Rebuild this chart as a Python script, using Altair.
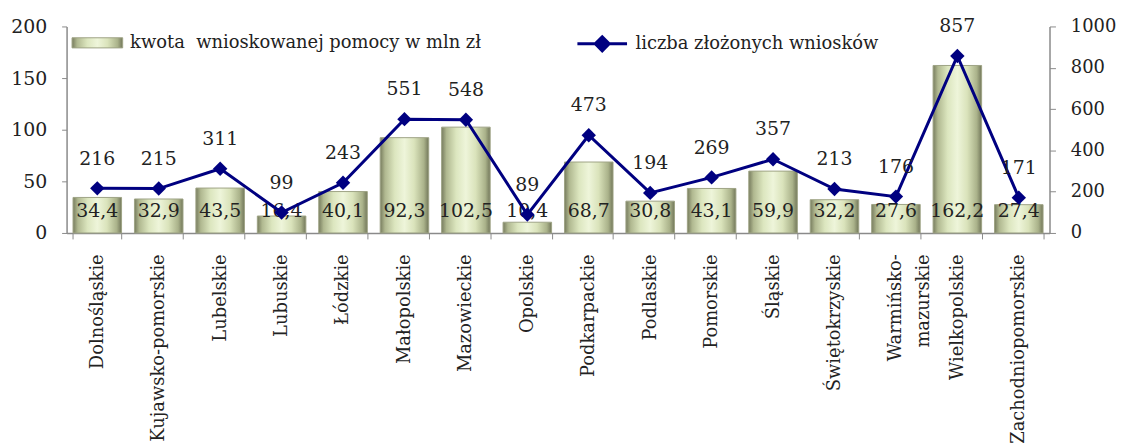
import altair as alt
import pandas as pd

regions = ["Dolnośląskie", "Kujawsko-pomorskie", "Lubelskie", "Lubuskie", "Łódzkie",
           "Małopolskie", "Mazowieckie", "Opolskie", "Podkarpackie", "Podlaskie",
           "Pomorskie", "Śląskie", "Świętokrzyskie", "Warmińsko-\nmazurskie",
           "Wielkopolskie", "Zachodniopomorskie"]
amounts = [34.4, 32.9, 43.5, 16.4, 40.1, 92.3, 102.5, 10.4, 68.7, 30.8,
           43.1, 59.9, 32.2, 27.6, 162.2, 27.4]
counts = [216, 215, 311, 99, 243, 551, 548, 89, 473, 194, 269, 357, 213, 176, 857, 171]
left_ticks = [0, 50, 100, 150, 200]
right_ticks = [0, 200, 400, 600, 800, 1000]
bar_series = "kwota\u00a0 wnioskowanej pomocy w mln zł"
line_series = "liczba złożonych wniosków"

df = pd.DataFrame({
    "region": regions,
    "amount": amounts,
    "count": counts,
    "amount_label": [f"{v:.1f}".replace(".", ",") for v in amounts],
    "bs": bar_series,
    "ls": line_series,
})

FONT = "DejaVu Serif"
TXT = "#222222"
NAVY = "#000080"

xenc = alt.X("region:N", sort=regions, title=None,
             scale=alt.Scale(paddingInner=0.21, paddingOuter=0.105),
             axis=alt.Axis(labelAngle=270, labelExpr="split(datum.label, '\\n')",
                           tickBand="extent", tickSize=6, labelPadding=15,
                           labelFontSize=18, labelLineHeight=28, labelLimit=300))

yleft = alt.Y("amount:Q", title=None,
              scale=alt.Scale(domain=[0, 200], nice=False),
              axis=alt.Axis(values=left_ticks, orient="left", grid=False, tickSize=5,
                            labelPadding=15, format="d"))

grad = alt.Gradient(
    gradient="linear", x1=0, x2=1, y1=0, y2=0,
    stops=[
        alt.GradientStop(offset=0, color="#777c5e"),
        alt.GradientStop(offset=0.1, color="#b0b890"),
        alt.GradientStop(offset=0.3, color="#dce6bf"),
        alt.GradientStop(offset=0.5, color="#eef5da"),
        alt.GradientStop(offset=0.7, color="#dae3bb"),
        alt.GradientStop(offset=0.9, color="#aab28a"),
        alt.GradientStop(offset=1, color="#72775a"),
    ],
)

bars = alt.Chart(df).mark_bar(fill=grad, strokeWidth=1).encode(
    x=xenc,
    y=yleft,
    stroke=alt.Stroke("bs:N", scale=alt.Scale(range=["#9ea385"]),
                      legend=alt.Legend(title=None, orient="none", legendX=5, legendY=-9.5,
                                        symbolType="M-1,-0.2H1V0.2H-1Z", symbolSize=2601,
                                        symbolFillColor="#d8e1b8", symbolStrokeWidth=1,
                                        labelOffset=7, padding=0, labelLimit=600,
                                        labelFont=FONT, labelFontSize=18, labelColor=TXT)),
)

bar_text = alt.Chart(df).mark_text(font=FONT, fontSize=19, color=TXT, dy=-22,
                                   baseline="middle").encode(
    x=alt.X("region:N", sort=regions),
    y=alt.datum(0),
    text="amount_label:N",
)

left = alt.layer(bars, bar_text)

yright = alt.Y("count:Q", title=None,
               scale=alt.Scale(domain=[0, 1000], nice=False),
               axis=alt.Axis(values=right_ticks, orient="right", grid=False, tickSize=6,
                             labelPadding=15, format="d", labelFontSize=18))

line = alt.Chart(df).mark_line(strokeWidth=3).encode(
    x=alt.X("region:N", sort=regions),
    y=yright,
    color=alt.Color("ls:N", scale=alt.Scale(range=[NAVY]),
                    legend=alt.Legend(title=None, orient="none", legendX=513, legendY=-9,
                                      symbolType="M-1,0H1M0,-0.28L0.28,0L0,0.28L-0.28,0Z",
                                      symbolSize=2500, symbolFillColor=NAVY,
                                      symbolStrokeColor=NAVY, symbolStrokeWidth=3,
                                      labelOffset=7, padding=0, labelLimit=600,
                                      labelFont=FONT, labelFontSize=18, labelColor=TXT)),
)

points = alt.Chart(df).mark_point(shape="diamond", filled=True, size=210, opacity=1,
                                  color=NAVY).encode(
    x=alt.X("region:N", sort=regions),
    y=alt.Y("count:Q"),
)

line_text = alt.Chart(df).mark_text(font=FONT, fontSize=19, color=TXT, dy=-30,
                                    baseline="middle").encode(
    x=alt.X("region:N", sort=regions),
    y=alt.Y("count:Q"),
    text="count:Q",
)

right = alt.layer(line, points, line_text)

chart = alt.layer(left, right).resolve_scale(y="independent").properties(
    width=990, height=208,
    autosize=alt.AutoSizeParams(type="none"),
    padding={"left": 59, "top": 17, "right": 71, "bottom": 215},
).configure_view(stroke=None).configure_axis(
    labelFont=FONT, labelFontSize=19, labelColor=TXT,
    domainColor="#8a8a8a", tickColor="#8a8a8a", domainWidth=1.5,
)

chart.save("out.html", embed_options={"renderer": "svg", "actions": False})
